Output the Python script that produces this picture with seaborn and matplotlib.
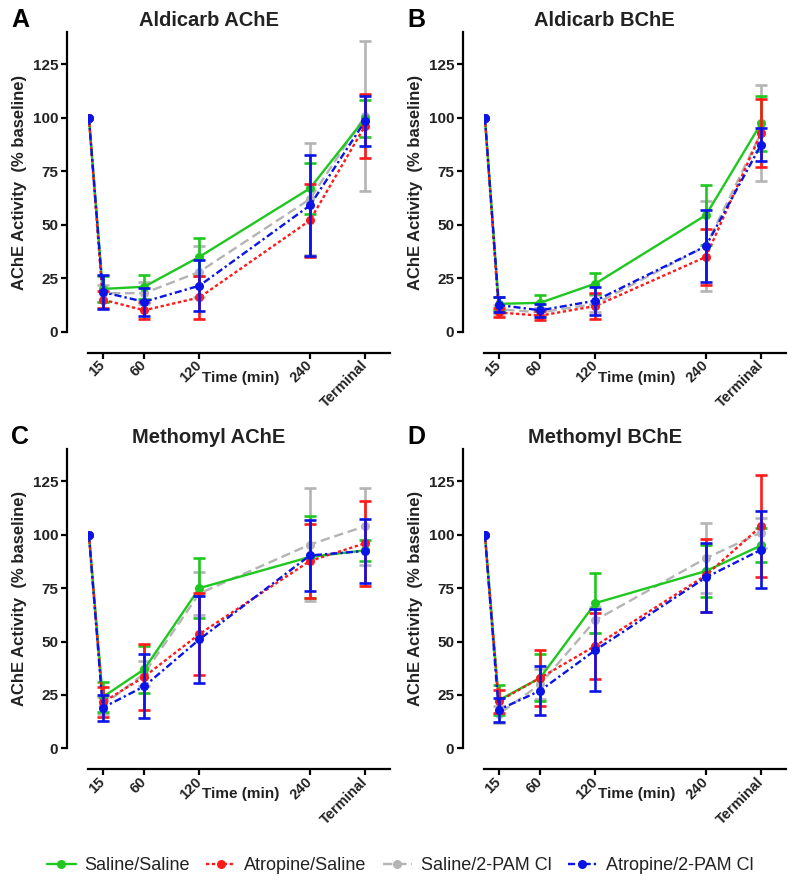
import numpy as np
import pandas as pd
import matplotlib
matplotlib.use("Agg")
import matplotlib.pyplot as plt
import seaborn as sns

sns.set_style("ticks")
plt.rcParams['font.family'] = ['Liberation Sans', 'DejaVu Sans']

# ---------------- data ----------------
times = [0, 15, 60, 120, 240, 300]
tick_positions = [15, 60, 120, 240, 300]
tick_labels = ["15", "60", "120", "240", "Terminal"]
groups = ["Saline/Saline", "Atropine/Saline", "Saline/2-PAM Cl", "Atropine/2-PAM Cl"]
panel_titles = ["Aldicarb AChE", "Aldicarb BChE", "Methomyl AChE", "Methomyl BChE"]
panel_letters = ["A", "B", "C", "D"]

# Aldicarb AChE
a_saline_saline = [100, 20, 21, 35, 67, 99.7]
a_saline_saline_err = [0, 6, 5.5, 9, 12, 8.5]
a_atropine_saline = [100, 15, 10, 16, 52, 96.3]
a_atropine_saline_err = [0, 4, 4, 10, 17, 15]
a_saline_pam = [100, 18, 18, 28, 62, 101]
a_saline_pam_err = [0, 4, 5, 12, 26, 35]
a_atropine_pam = [100, 18.5, 14, 21.5, 59, 98.5]
a_atropine_pam_err = [0, 8, 6.5, 12, 23.5, 11.5]

# Aldicarb BChE
b_saline_saline = [100, 13, 13.5, 22.5, 54.5, 97.4]
b_saline_saline_err = [0, 3, 3.5, 5, 14, 13]
b_atropine_saline = [100, 9, 7.5, 12, 35, 93]
b_atropine_saline_err = [0, 2, 2, 6, 13, 16]
b_saline_pam = [100, 10.5, 9, 13, 40, 93]
b_saline_pam_err = [0, 2, 2, 4, 21, 22.5]
b_atropine_pam = [100, 12.5, 10, 14.5, 40, 87.5]
b_atropine_pam_err = [0, 3.5, 3, 6.5, 17, 7.5]

# Methomyl AChE
c_saline_saline = [100, 24, 37, 75, 89.6, 92.7]
c_saline_saline_err = [0, 7, 11, 14, 19.4, 5]
c_atropine_saline = [100, 21.5, 33.5, 53.5, 87.7, 96]
c_atropine_saline_err = [0, 7, 15.5, 19, 17.5, 20]
c_saline_pam = [100, 20, 35, 72.5, 95.4, 104]
c_saline_pam_err = [0, 4, 6, 10, 26.5, 18]
c_atropine_pam = [100, 19, 29, 51, 90.3, 92.4]
c_atropine_pam_err = [0, 6, 15, 20.5, 16.8, 14.8]

# Methomyl BChE
d_saline_saline = [100, 22.5, 33, 68, 83, 95]
d_saline_saline_err = [0, 7, 11, 14, 12, 8]
d_atropine_saline = [100, 22, 33, 48, 81, 104]
d_atropine_saline_err = [0, 5.5, 13, 15.5, 17, 24]
d_saline_pam = [100, 16, 30, 60, 89, 101]
d_saline_pam_err = [0, 4, 7, 6, 16.5, 7]
d_atropine_pam = [100, 18, 27, 46, 80, 93]
d_atropine_pam_err = [0, 5.5, 11.5, 19, 16, 18]

panel_data = [
    [(a_saline_saline, a_saline_saline_err), (a_atropine_saline, a_atropine_saline_err),
     (a_saline_pam, a_saline_pam_err), (a_atropine_pam, a_atropine_pam_err)],
    [(b_saline_saline, b_saline_saline_err), (b_atropine_saline, b_atropine_saline_err),
     (b_saline_pam, b_saline_pam_err), (b_atropine_pam, b_atropine_pam_err)],
    [(c_saline_saline, c_saline_saline_err), (c_atropine_saline, c_atropine_saline_err),
     (c_saline_pam, c_saline_pam_err), (c_atropine_pam, c_atropine_pam_err)],
    [(d_saline_saline, d_saline_saline_err), (d_atropine_saline, d_atropine_saline_err),
     (d_saline_pam, d_saline_pam_err), (d_atropine_pam, d_atropine_pam_err)],
]

rows = []
for p, pdata in enumerate(panel_data):
    for g, (m, e) in zip(groups, pdata):
        for t, mv, ev in zip(times, m, e):
            rows.append(dict(panel=p, group=g, time=t, mean=mv, err=ev))
df = pd.DataFrame(rows)

# ---------------- styles ----------------
colors = {"Saline/Saline": "#1ec81e", "Atropine/Saline": "#ff1a1a",
          "Saline/2-PAM Cl": "#b4b4b4", "Atropine/2-PAM Cl": "#0a14e6"}
linestyles = {"Saline/Saline": "-", "Atropine/Saline": (0, (1.4, 1.1)),
              "Saline/2-PAM Cl": (0, (4, 2)), "Atropine/2-PAM Cl": (0, (3, 1.3, 1, 1.3))}
zorders = {"Saline/2-PAM Cl": 3, "Saline/Saline": 4, "Atropine/Saline": 5, "Atropine/2-PAM Cl": 6}
draw_order = ["Saline/2-PAM Cl", "Saline/Saline", "Atropine/Saline", "Atropine/2-PAM Cl"]

fig = plt.figure(figsize=(8.0, 8.94), dpi=100)
W, H = 800.0, 894.0
ax_rects = [
    [88 / W, 1 - 331.7 / H, 302 / W, 299.5 / H],
    [484 / W, 1 - 331.7 / H, 302 / W, 299.5 / H],
    [88 / W, 1 - 748.3 / H, 302 / W, 299 / H],
    [484 / W, 1 - 748.3 / H, 302 / W, 299 / H],
]

text_col = "#222222"
for p in range(4):
    ax = fig.add_axes(ax_rects[p])
    sub = df[df.panel == p]
    for g in draw_order:
        s = sub[sub.group == g]
        sns.lineplot(data=s, x="time", y="mean", ax=ax, color=colors[g],
                     linestyle=linestyles[g], linewidth=1.7, marker="o",
                     markersize=6.5, markeredgewidth=0, markeredgecolor=colors[g],
                     errorbar=None, legend=False, label=g, zorder=zorders[g])
        se = s[s.err > 0]
        ax.errorbar(se["time"], se["mean"], yerr=se["err"], fmt="none",
                    ecolor=colors[g], elinewidth=1.9, capsize=4, capthick=1.9,
                    zorder=zorders[g] - 0.5)
    # spines first (setting their position resets tick styling)
    sns.despine(ax=ax, offset=15)
    for sp in ["left", "bottom"]:
        ax.spines[sp].set_linewidth(1.6)
        ax.spines[sp].set_color("black")
    ax.set_xlim(-1, 327)
    ax.set_ylim(0, 140)
    ax.tick_params(axis="both", length=4.5, width=1.6, color="black")
    ax.tick_params(axis="y", pad=2)
    ax.tick_params(axis="x", pad=3)
    ax.set_yticks([0, 25, 50, 75, 100, 125])
    ax.set_yticklabels(["0", "25", "50", "75", "100", "125"], fontsize=11,
                       fontweight="bold", color=text_col)
    ax.set_xticks(tick_positions)
    ax.set_xticklabels(tick_labels, rotation=45, ha="right", va="center",
                       rotation_mode="anchor", fontsize=10.5, fontweight="bold", color=text_col)
    ax.set_xlabel("Time (min)", fontsize=11, fontweight="bold", color=text_col, va="center")
    ax.xaxis.set_label_coords(0.505, -0.153)
    ax.set_ylabel("AChE Activity  (% baseline)", fontsize=12, fontweight="bold",
                  color=text_col, va="center")
    ax.yaxis.set_label_coords(-0.228, 0.5)
    ax.text(0.40, 1.04, panel_titles[p], transform=ax.transAxes, ha="center",
            va="center", fontsize=14.5, fontweight="bold", color=text_col)
    ax.text(-0.225, 1.04, panel_letters[p], transform=ax.transAxes, ha="center",
            va="center", fontsize=18, fontweight="bold", color="black")
    if p == 0:
        handles, labels = ax.get_legend_handles_labels()

hmap = dict(zip(labels, handles))
fig.legend([hmap[g] for g in groups], groups, loc="center", bbox_to_anchor=(0.5, 1 - 866 / H),
           ncol=4, frameon=False, fontsize=13, handlelength=1.6, handletextpad=0.5,
           columnspacing=0.9, labelcolor=text_col)

fig.savefig("out.png", dpi=100)
